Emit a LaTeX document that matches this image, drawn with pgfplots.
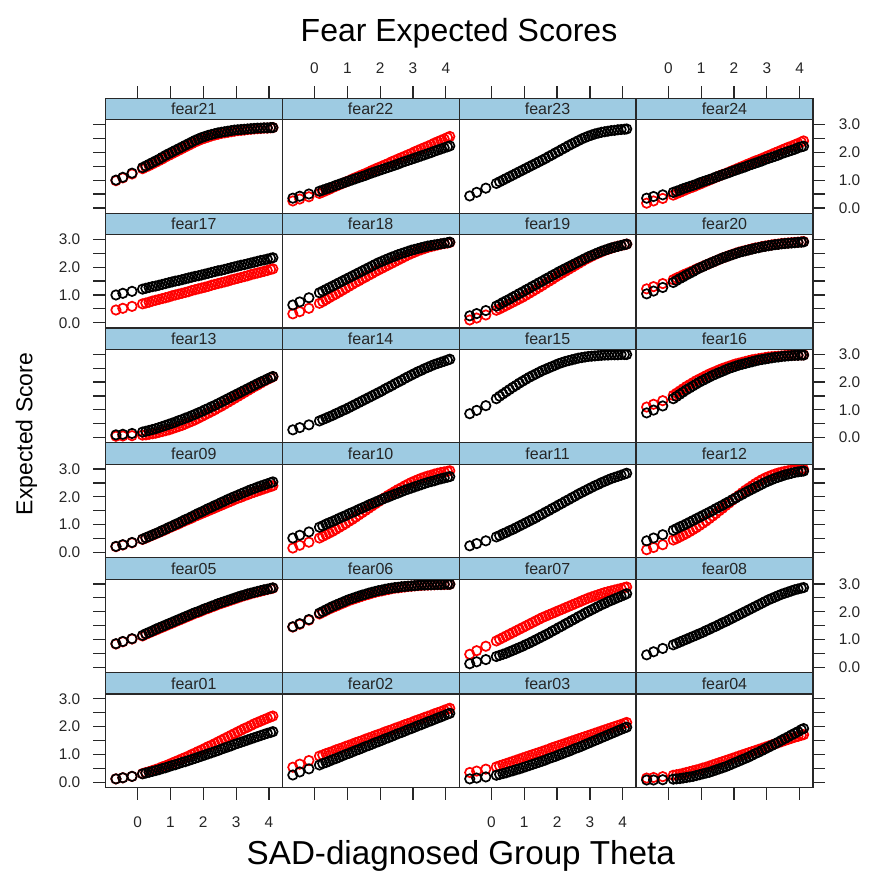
\documentclass[border=0pt]{standalone}
\usepackage{fontspec}
\setmainfont{Liberation Sans}
\usepackage{pgfplots}
\usepackage{pgfplotstable}
\pgfplotsset{compat=1.18}

\definecolor{stripblue}{RGB}{158,203,226}
\definecolor{frame}{RGB}{40,40,40}

% ---- data: one table per panel, x = theta, b = black group, r = red group
\pgfplotstableread{
x b r
-0.66 0.12 0.12
-0.45 0.16 0.16
-0.17 0.21 0.21
0.15 0.30 0.31
0.25 0.33 0.35
0.35 0.36 0.38
0.45 0.39 0.42
0.55 0.42 0.46
0.65 0.45 0.50
0.75 0.49 0.55
0.85 0.52 0.59
0.95 0.56 0.64
1.05 0.60 0.69
1.15 0.63 0.74
1.25 0.67 0.79
1.35 0.71 0.84
1.45 0.74 0.89
1.55 0.78 0.94
1.65 0.82 1.00
1.75 0.86 1.05
1.85 0.90 1.11
1.95 0.94 1.16
2.05 0.98 1.22
2.15 1.02 1.28
2.25 1.06 1.33
2.35 1.10 1.39
2.45 1.14 1.45
2.55 1.19 1.51
2.65 1.23 1.57
2.75 1.27 1.63
2.85 1.31 1.69
2.95 1.36 1.75
3.05 1.40 1.81
3.15 1.44 1.87
3.25 1.48 1.93
3.35 1.52 1.98
3.45 1.56 2.04
3.55 1.60 2.10
3.65 1.64 2.15
3.75 1.68 2.20
3.85 1.72 2.25
3.95 1.76 2.30
4.05 1.79 2.35
4.12 1.82 2.38
}\datA
\pgfplotstableread{
x b r
-0.66 0.26 0.54
-0.45 0.37 0.65
-0.17 0.48 0.78
0.15 0.62 0.94
0.25 0.67 0.98
0.35 0.71 1.03
0.45 0.76 1.07
0.55 0.81 1.11
0.65 0.85 1.16
0.75 0.90 1.20
0.85 0.95 1.24
0.95 1.00 1.29
1.05 1.04 1.33
1.15 1.09 1.37
1.25 1.14 1.42
1.35 1.18 1.46
1.45 1.23 1.50
1.55 1.28 1.55
1.65 1.32 1.59
1.75 1.37 1.63
1.85 1.42 1.68
1.95 1.46 1.72
2.05 1.51 1.76
2.15 1.56 1.81
2.25 1.60 1.85
2.35 1.65 1.89
2.45 1.70 1.94
2.55 1.75 1.98
2.65 1.79 2.02
2.75 1.84 2.07
2.85 1.89 2.11
2.95 1.93 2.15
3.05 1.98 2.20
3.15 2.03 2.24
3.25 2.07 2.28
3.35 2.12 2.33
3.45 2.17 2.37
3.55 2.21 2.41
3.65 2.26 2.46
3.75 2.31 2.50
3.85 2.35 2.54
3.95 2.40 2.59
4.05 2.45 2.63
4.12 2.48 2.66
}\datB
\pgfplotstableread{
x b r
-0.66 0.12 0.35
-0.45 0.15 0.40
-0.17 0.19 0.47
0.15 0.25 0.55
0.25 0.28 0.59
0.35 0.31 0.63
0.45 0.34 0.67
0.55 0.38 0.71
0.65 0.41 0.75
0.75 0.45 0.79
0.85 0.48 0.83
0.95 0.52 0.87
1.05 0.56 0.91
1.15 0.60 0.95
1.25 0.64 0.99
1.35 0.68 1.03
1.45 0.72 1.07
1.55 0.76 1.11
1.65 0.80 1.15
1.75 0.85 1.19
1.85 0.89 1.24
1.95 0.93 1.28
2.05 0.98 1.32
2.15 1.02 1.36
2.25 1.07 1.40
2.35 1.11 1.44
2.45 1.16 1.48
2.55 1.21 1.52
2.65 1.25 1.56
2.75 1.30 1.60
2.85 1.35 1.64
2.95 1.40 1.68
3.05 1.45 1.72
3.15 1.50 1.76
3.25 1.55 1.80
3.35 1.60 1.84
3.45 1.65 1.88
3.55 1.70 1.92
3.65 1.75 1.96
3.75 1.80 2.00
3.85 1.85 2.04
3.95 1.90 2.08
4.05 1.95 2.12
4.12 1.98 2.15
}\datC
\pgfplotstableread{
x b r
-0.66 0.08 0.15
-0.45 0.08 0.17
-0.17 0.09 0.20
0.15 0.11 0.25
0.25 0.12 0.27
0.35 0.13 0.29
0.45 0.15 0.32
0.55 0.17 0.35
0.65 0.19 0.38
0.75 0.21 0.41
0.85 0.24 0.44
0.95 0.27 0.47
1.05 0.30 0.51
1.15 0.33 0.54
1.25 0.36 0.58
1.35 0.40 0.62
1.45 0.44 0.66
1.55 0.48 0.70
1.65 0.52 0.74
1.75 0.56 0.78
1.85 0.61 0.82
1.95 0.66 0.86
2.05 0.71 0.90
2.15 0.76 0.94
2.25 0.81 0.98
2.35 0.86 1.02
2.45 0.91 1.06
2.55 0.97 1.10
2.65 1.03 1.14
2.75 1.08 1.18
2.85 1.14 1.22
2.95 1.20 1.26
3.05 1.26 1.30
3.15 1.32 1.34
3.25 1.38 1.38
3.35 1.44 1.42
3.45 1.51 1.46
3.55 1.57 1.50
3.65 1.63 1.54
3.75 1.70 1.58
3.85 1.76 1.62
3.95 1.82 1.65
4.05 1.89 1.69
4.12 1.93 1.71
}\datD
\pgfplotstableread{
x b r
-0.66 0.85 0.84
-0.45 0.93 0.92
-0.17 1.03 1.02
0.15 1.15 1.13
0.25 1.21 1.19
0.35 1.26 1.24
0.45 1.31 1.29
0.55 1.37 1.34
0.65 1.42 1.39
0.75 1.47 1.44
0.85 1.52 1.49
0.95 1.57 1.54
1.05 1.62 1.59
1.15 1.67 1.64
1.25 1.72 1.69
1.35 1.77 1.74
1.45 1.82 1.79
1.55 1.87 1.84
1.65 1.92 1.89
1.75 1.97 1.94
1.85 2.01 1.98
1.95 2.06 2.03
2.05 2.11 2.08
2.15 2.15 2.12
2.25 2.20 2.17
2.35 2.24 2.21
2.45 2.29 2.26
2.55 2.33 2.30
2.65 2.37 2.34
2.75 2.41 2.38
2.85 2.45 2.42
2.95 2.49 2.46
3.05 2.53 2.50
3.15 2.57 2.54
3.25 2.60 2.58
3.35 2.64 2.61
3.45 2.67 2.65
3.55 2.70 2.68
3.65 2.73 2.71
3.75 2.76 2.74
3.85 2.79 2.77
3.95 2.81 2.80
4.05 2.84 2.83
4.12 2.86 2.85
}\datE
\pgfplotstableread{
x b r
-0.66 1.46 1.45
-0.45 1.57 1.55
-0.17 1.72 1.70
0.15 1.95 1.92
0.25 2.01 1.98
0.35 2.07 2.04
0.45 2.13 2.10
0.55 2.19 2.15
0.65 2.24 2.20
0.75 2.29 2.25
0.85 2.34 2.30
0.95 2.39 2.35
1.05 2.44 2.40
1.15 2.48 2.44
1.25 2.52 2.48
1.35 2.56 2.52
1.45 2.60 2.56
1.55 2.63 2.60
1.65 2.67 2.63
1.75 2.70 2.67
1.85 2.73 2.70
1.95 2.76 2.73
2.05 2.78 2.75
2.15 2.81 2.78
2.25 2.83 2.80
2.35 2.85 2.83
2.45 2.87 2.85
2.55 2.88 2.86
2.65 2.90 2.88
2.75 2.91 2.89
2.85 2.92 2.91
2.95 2.93 2.92
3.05 2.94 2.93
3.15 2.95 2.94
3.25 2.96 2.95
3.35 2.96 2.96
3.45 2.97 2.96
3.55 2.97 2.97
3.65 2.98 2.97
3.75 2.98 2.98
3.85 2.98 2.98
3.95 2.99 2.98
4.05 2.99 2.99
4.12 2.99 2.99
}\datF
\pgfplotstableread{
x b r
-0.66 0.13 0.47
-0.45 0.20 0.60
-0.17 0.28 0.76
0.15 0.39 0.95
0.25 0.43 1.01
0.35 0.47 1.07
0.45 0.51 1.13
0.55 0.56 1.19
0.65 0.61 1.25
0.75 0.66 1.31
0.85 0.71 1.37
0.95 0.76 1.43
1.05 0.82 1.49
1.15 0.87 1.55
1.25 0.93 1.61
1.35 0.99 1.67
1.45 1.05 1.73
1.55 1.11 1.79
1.65 1.17 1.84
1.75 1.23 1.89
1.85 1.30 1.94
1.95 1.36 1.99
2.05 1.43 2.04
2.15 1.49 2.09
2.25 1.56 2.14
2.35 1.62 2.19
2.45 1.69 2.24
2.55 1.75 2.29
2.65 1.82 2.34
2.75 1.88 2.39
2.85 1.95 2.44
2.95 2.01 2.49
3.05 2.07 2.53
3.15 2.13 2.57
3.25 2.19 2.61
3.35 2.25 2.65
3.45 2.30 2.69
3.55 2.36 2.72
3.65 2.41 2.75
3.75 2.46 2.78
3.85 2.51 2.81
3.95 2.56 2.84
4.05 2.61 2.87
4.12 2.65 2.89
}\datG
\pgfplotstableread{
x b
-0.66 0.45
-0.45 0.56
-0.17 0.68
0.15 0.81
0.25 0.86
0.35 0.91
0.45 0.96
0.55 1.01
0.65 1.06
0.75 1.11
0.85 1.16
0.95 1.21
1.05 1.26
1.15 1.32
1.25 1.37
1.35 1.43
1.45 1.48
1.55 1.54
1.65 1.60
1.75 1.65
1.85 1.71
1.95 1.77
2.05 1.83
2.15 1.89
2.25 1.95
2.35 2.01
2.45 2.07
2.55 2.13
2.65 2.19
2.75 2.25
2.85 2.31
2.95 2.37
3.05 2.43
3.15 2.48
3.25 2.53
3.35 2.58
3.45 2.63
3.55 2.67
3.65 2.71
3.75 2.75
3.85 2.79
3.95 2.82
4.05 2.85
4.12 2.87
}\datH
\pgfplotstableread{
x b r
-0.66 0.22 0.21
-0.45 0.28 0.27
-0.17 0.36 0.35
0.15 0.48 0.47
0.25 0.53 0.52
0.35 0.58 0.57
0.45 0.63 0.62
0.55 0.68 0.67
0.65 0.73 0.72
0.75 0.79 0.77
0.85 0.84 0.82
0.95 0.90 0.88
1.05 0.95 0.93
1.15 1.01 0.98
1.25 1.06 1.03
1.35 1.12 1.09
1.45 1.18 1.14
1.55 1.23 1.19
1.65 1.29 1.24
1.75 1.35 1.30
1.85 1.41 1.35
1.95 1.46 1.40
2.05 1.52 1.45
2.15 1.58 1.50
2.25 1.63 1.55
2.35 1.69 1.60
2.45 1.74 1.65
2.55 1.80 1.70
2.65 1.85 1.75
2.75 1.91 1.80
2.85 1.96 1.85
2.95 2.01 1.90
3.05 2.06 1.95
3.15 2.11 1.99
3.25 2.16 2.04
3.35 2.21 2.08
3.45 2.26 2.13
3.55 2.30 2.17
3.65 2.35 2.21
3.75 2.39 2.25
3.85 2.43 2.29
3.95 2.47 2.33
4.05 2.51 2.37
4.12 2.54 2.40
}\datI
\pgfplotstableread{
x b r
-0.66 0.52 0.16
-0.45 0.62 0.26
-0.17 0.74 0.37
0.15 0.91 0.52
0.25 0.96 0.58
0.35 1.02 0.64
0.45 1.07 0.70
0.55 1.12 0.76
0.65 1.17 0.83
0.75 1.23 0.90
0.85 1.28 0.97
0.95 1.33 1.04
1.05 1.39 1.12
1.15 1.44 1.19
1.25 1.49 1.27
1.35 1.55 1.35
1.45 1.60 1.43
1.55 1.65 1.51
1.65 1.71 1.59
1.75 1.76 1.67
1.85 1.81 1.75
1.95 1.86 1.83
2.05 1.91 1.91
2.15 1.96 1.98
2.25 2.00 2.06
2.35 2.05 2.13
2.45 2.10 2.20
2.55 2.14 2.27
2.65 2.19 2.33
2.75 2.24 2.40
2.85 2.28 2.46
2.95 2.32 2.52
3.05 2.36 2.57
3.15 2.40 2.62
3.25 2.44 2.67
3.35 2.48 2.71
3.45 2.52 2.75
3.55 2.55 2.78
3.65 2.58 2.82
3.75 2.62 2.85
3.85 2.65 2.88
3.95 2.68 2.90
4.05 2.71 2.92
4.12 2.73 2.94
}\datJ
\pgfplotstableread{
x b
-0.66 0.24
-0.45 0.32
-0.17 0.42
0.15 0.56
0.25 0.61
0.35 0.67
0.45 0.72
0.55 0.78
0.65 0.83
0.75 0.89
0.85 0.95
0.95 1.01
1.05 1.07
1.15 1.13
1.25 1.19
1.35 1.25
1.45 1.32
1.55 1.38
1.65 1.45
1.75 1.51
1.85 1.58
1.95 1.64
2.05 1.71
2.15 1.77
2.25 1.84
2.35 1.90
2.45 1.97
2.55 2.03
2.65 2.10
2.75 2.16
2.85 2.22
2.95 2.28
3.05 2.34
3.15 2.40
3.25 2.45
3.35 2.51
3.45 2.56
3.55 2.61
3.65 2.66
3.75 2.70
3.85 2.74
3.95 2.78
4.05 2.82
4.12 2.85
}\datK
\pgfplotstableread{
x b r
-0.66 0.42 0.10
-0.45 0.52 0.18
-0.17 0.64 0.28
0.15 0.80 0.45
0.25 0.86 0.50
0.35 0.92 0.56
0.45 0.97 0.62
0.55 1.03 0.68
0.65 1.09 0.75
0.75 1.15 0.82
0.85 1.21 0.89
0.95 1.27 0.97
1.05 1.33 1.05
1.15 1.39 1.13
1.25 1.45 1.22
1.35 1.51 1.31
1.45 1.58 1.40
1.55 1.64 1.50
1.65 1.70 1.59
1.75 1.77 1.69
1.85 1.83 1.78
1.95 1.90 1.88
2.05 1.96 1.97
2.15 2.03 2.06
2.25 2.09 2.15
2.35 2.16 2.24
2.45 2.22 2.32
2.55 2.28 2.40
2.65 2.34 2.48
2.75 2.40 2.55
2.85 2.46 2.62
2.95 2.52 2.68
3.05 2.57 2.73
3.15 2.62 2.78
3.25 2.67 2.82
3.35 2.71 2.86
3.45 2.75 2.89
3.55 2.79 2.92
3.65 2.82 2.94
3.75 2.85 2.96
3.85 2.88 2.97
3.95 2.90 2.98
4.05 2.92 2.99
4.12 2.93 2.99
}\datL
\pgfplotstableread{
x b r
-0.66 0.10 0.05
-0.45 0.12 0.06
-0.17 0.15 0.07
0.15 0.20 0.09
0.25 0.23 0.10
0.35 0.26 0.12
0.45 0.29 0.14
0.55 0.32 0.16
0.65 0.36 0.19
0.75 0.40 0.22
0.85 0.44 0.25
0.95 0.48 0.28
1.05 0.52 0.32
1.15 0.56 0.36
1.25 0.61 0.40
1.35 0.65 0.44
1.45 0.70 0.49
1.55 0.74 0.54
1.65 0.79 0.59
1.75 0.84 0.64
1.85 0.89 0.70
1.95 0.94 0.76
2.05 1.00 0.82
2.15 1.05 0.88
2.25 1.11 0.94
2.35 1.16 1.00
2.45 1.22 1.07
2.55 1.28 1.13
2.65 1.34 1.20
2.75 1.40 1.27
2.85 1.46 1.34
2.95 1.52 1.41
3.05 1.58 1.48
3.15 1.64 1.55
3.25 1.70 1.62
3.35 1.76 1.69
3.45 1.82 1.76
3.55 1.88 1.83
3.65 1.94 1.89
3.75 2.00 1.96
3.85 2.05 2.03
3.95 2.11 2.09
4.05 2.16 2.15
4.12 2.20 2.19
}\datM
\pgfplotstableread{
x b
-0.66 0.28
-0.45 0.36
-0.17 0.46
0.15 0.60
0.25 0.65
0.35 0.70
0.45 0.75
0.55 0.80
0.65 0.86
0.75 0.91
0.85 0.97
0.95 1.02
1.05 1.08
1.15 1.14
1.25 1.20
1.35 1.26
1.45 1.32
1.55 1.38
1.65 1.44
1.75 1.50
1.85 1.56
1.95 1.62
2.05 1.68
2.15 1.75
2.25 1.81
2.35 1.87
2.45 1.94
2.55 2.00
2.65 2.06
2.75 2.13
2.85 2.19
2.95 2.25
3.05 2.31
3.15 2.37
3.25 2.42
3.35 2.48
3.45 2.53
3.55 2.58
3.65 2.63
3.75 2.67
3.85 2.71
3.95 2.75
4.05 2.79
4.12 2.82
}\datN
\pgfplotstableread{
x b
-0.66 0.86
-0.45 0.98
-0.17 1.15
0.15 1.40
0.25 1.49
0.35 1.57
0.45 1.65
0.55 1.73
0.65 1.81
0.75 1.88
0.85 1.96
0.95 2.03
1.05 2.10
1.15 2.17
1.25 2.23
1.35 2.29
1.45 2.35
1.55 2.41
1.65 2.46
1.75 2.51
1.85 2.56
1.95 2.61
2.05 2.66
2.15 2.70
2.25 2.74
2.35 2.77
2.45 2.80
2.55 2.83
2.65 2.86
2.75 2.88
2.85 2.90
2.95 2.92
3.05 2.93
3.15 2.94
3.25 2.95
3.35 2.96
3.45 2.97
3.55 2.97
3.65 2.98
3.75 2.98
3.85 2.98
3.95 2.99
4.05 2.99
4.12 2.99
}\datO
\pgfplotstableread{
x b r
-0.66 0.89 1.10
-0.45 0.99 1.20
-0.17 1.14 1.33
0.15 1.40 1.52
0.25 1.48 1.60
0.35 1.56 1.68
0.45 1.64 1.76
0.55 1.72 1.84
0.65 1.79 1.91
0.75 1.86 1.98
0.85 1.93 2.05
0.95 2.00 2.11
1.05 2.06 2.17
1.15 2.12 2.23
1.25 2.18 2.29
1.35 2.24 2.34
1.45 2.29 2.39
1.55 2.34 2.44
1.65 2.39 2.49
1.75 2.44 2.53
1.85 2.49 2.57
1.95 2.53 2.61
2.05 2.57 2.65
2.15 2.61 2.68
2.25 2.64 2.71
2.35 2.67 2.74
2.45 2.70 2.77
2.55 2.73 2.80
2.65 2.76 2.82
2.75 2.79 2.84
2.85 2.81 2.86
2.95 2.83 2.88
3.05 2.85 2.90
3.15 2.87 2.91
3.25 2.89 2.92
3.35 2.90 2.93
3.45 2.92 2.94
3.55 2.93 2.95
3.65 2.94 2.96
3.75 2.95 2.96
3.85 2.96 2.97
3.95 2.96 2.97
4.05 2.97 2.98
4.12 2.97 2.98
}\datP
\pgfplotstableread{
x b r
-0.66 1.00 0.46
-0.45 1.06 0.52
-0.17 1.13 0.59
0.15 1.21 0.68
0.25 1.24 0.71
0.35 1.27 0.74
0.45 1.30 0.78
0.55 1.32 0.81
0.65 1.35 0.84
0.75 1.38 0.87
0.85 1.41 0.90
0.95 1.44 0.93
1.05 1.47 0.97
1.15 1.50 1.00
1.25 1.52 1.03
1.35 1.55 1.06
1.45 1.58 1.09
1.55 1.61 1.12
1.65 1.64 1.16
1.75 1.67 1.19
1.85 1.69 1.22
1.95 1.72 1.25
2.05 1.75 1.28
2.15 1.78 1.31
2.25 1.81 1.35
2.35 1.84 1.38
2.45 1.87 1.41
2.55 1.89 1.44
2.65 1.92 1.47
2.75 1.95 1.50
2.85 1.98 1.54
2.95 2.01 1.57
3.05 2.04 1.60
3.15 2.07 1.63
3.25 2.09 1.66
3.35 2.12 1.69
3.45 2.15 1.73
3.55 2.18 1.76
3.65 2.21 1.79
3.75 2.24 1.82
3.85 2.26 1.85
3.95 2.29 1.88
4.05 2.32 1.92
4.12 2.34 1.94
}\datQ
\pgfplotstableread{
x b r
-0.66 0.64 0.32
-0.45 0.75 0.40
-0.17 0.90 0.52
0.15 1.08 0.70
0.25 1.14 0.76
0.35 1.20 0.83
0.45 1.26 0.90
0.55 1.32 0.97
0.65 1.38 1.03
0.75 1.44 1.10
0.85 1.50 1.17
0.95 1.56 1.24
1.05 1.62 1.31
1.15 1.68 1.38
1.25 1.74 1.45
1.35 1.80 1.51
1.45 1.86 1.58
1.55 1.92 1.64
1.65 1.98 1.71
1.75 2.04 1.77
1.85 2.10 1.84
1.95 2.16 1.90
2.05 2.21 1.96
2.15 2.26 2.02
2.25 2.31 2.08
2.35 2.36 2.14
2.45 2.40 2.20
2.55 2.45 2.26
2.65 2.49 2.32
2.75 2.53 2.38
2.85 2.57 2.44
2.95 2.61 2.49
3.05 2.64 2.54
3.15 2.67 2.59
3.25 2.70 2.63
3.35 2.73 2.67
3.45 2.76 2.71
3.55 2.78 2.74
3.65 2.80 2.77
3.75 2.82 2.80
3.85 2.84 2.83
3.95 2.86 2.85
4.05 2.88 2.87
4.12 2.90 2.89
}\datR
\pgfplotstableread{
x b r
-0.66 0.25 0.10
-0.45 0.33 0.17
-0.17 0.44 0.28
0.15 0.60 0.45
0.25 0.66 0.50
0.35 0.73 0.56
0.45 0.79 0.62
0.55 0.85 0.68
0.65 0.92 0.74
0.75 0.98 0.80
0.85 1.05 0.86
0.95 1.11 0.92
1.05 1.18 0.99
1.15 1.24 1.06
1.25 1.31 1.13
1.35 1.37 1.20
1.45 1.44 1.27
1.55 1.50 1.34
1.65 1.57 1.42
1.75 1.63 1.49
1.85 1.70 1.56
1.95 1.76 1.64
2.05 1.83 1.71
2.15 1.89 1.78
2.25 1.95 1.85
2.35 2.01 1.92
2.45 2.07 1.99
2.55 2.13 2.06
2.65 2.19 2.13
2.75 2.25 2.20
2.85 2.31 2.27
2.95 2.37 2.33
3.05 2.42 2.39
3.15 2.47 2.45
3.25 2.52 2.50
3.35 2.57 2.55
3.45 2.61 2.60
3.55 2.65 2.64
3.65 2.69 2.68
3.75 2.72 2.72
3.85 2.75 2.75
3.95 2.78 2.78
4.05 2.81 2.81
4.12 2.83 2.83
}\datS
\pgfplotstableread{
x b r
-0.66 1.04 1.22
-0.45 1.14 1.30
-0.17 1.27 1.41
0.15 1.45 1.55
0.25 1.52 1.61
0.35 1.59 1.66
0.45 1.65 1.72
0.55 1.72 1.77
0.65 1.78 1.82
0.75 1.84 1.87
0.85 1.91 1.93
0.95 1.97 1.98
1.05 2.02 2.03
1.15 2.08 2.08
1.25 2.13 2.13
1.35 2.18 2.18
1.45 2.23 2.23
1.55 2.28 2.28
1.65 2.33 2.33
1.75 2.37 2.37
1.85 2.41 2.42
1.95 2.45 2.46
2.05 2.49 2.50
2.15 2.53 2.54
2.25 2.56 2.57
2.35 2.59 2.60
2.45 2.62 2.63
2.55 2.65 2.66
2.65 2.68 2.69
2.75 2.70 2.71
2.85 2.73 2.74
2.95 2.75 2.76
3.05 2.77 2.78
3.15 2.79 2.80
3.25 2.81 2.82
3.35 2.82 2.83
3.45 2.84 2.85
3.55 2.85 2.86
3.65 2.86 2.87
3.75 2.87 2.88
3.85 2.88 2.89
3.95 2.89 2.90
4.05 2.90 2.91
4.12 2.91 2.92
}\datT
\pgfplotstableread{
x b r
-0.66 1.00 0.98
-0.45 1.10 1.08
-0.17 1.25 1.22
0.15 1.45 1.41
0.25 1.51 1.47
0.35 1.57 1.52
0.45 1.63 1.58
0.55 1.69 1.64
0.65 1.75 1.70
0.75 1.82 1.76
0.85 1.89 1.83
0.95 1.95 1.89
1.05 2.01 1.95
1.15 2.07 2.01
1.25 2.13 2.07
1.35 2.19 2.13
1.45 2.25 2.19
1.55 2.31 2.25
1.65 2.37 2.31
1.75 2.43 2.37
1.85 2.48 2.42
1.95 2.53 2.47
2.05 2.57 2.51
2.15 2.61 2.55
2.25 2.64 2.59
2.35 2.67 2.62
2.45 2.70 2.65
2.55 2.72 2.68
2.65 2.74 2.70
2.75 2.76 2.72
2.85 2.78 2.74
2.95 2.80 2.76
3.05 2.81 2.78
3.15 2.82 2.79
3.25 2.83 2.80
3.35 2.84 2.82
3.45 2.85 2.83
3.55 2.86 2.84
3.65 2.87 2.85
3.75 2.87 2.86
3.85 2.88 2.87
3.95 2.88 2.87
4.05 2.89 2.88
4.12 2.89 2.89
}\datU
\pgfplotstableread{
x b r
-0.66 0.35 0.25
-0.45 0.42 0.32
-0.17 0.50 0.40
0.15 0.60 0.52
0.25 0.64 0.57
0.35 0.68 0.62
0.45 0.72 0.67
0.55 0.76 0.73
0.65 0.81 0.78
0.75 0.85 0.83
0.85 0.89 0.88
0.95 0.93 0.93
1.05 0.97 0.98
1.15 1.01 1.04
1.25 1.05 1.09
1.35 1.09 1.14
1.45 1.13 1.19
1.55 1.17 1.24
1.65 1.22 1.29
1.75 1.26 1.35
1.85 1.30 1.40
1.95 1.34 1.45
2.05 1.38 1.50
2.15 1.42 1.55
2.25 1.46 1.60
2.35 1.50 1.66
2.45 1.54 1.71
2.55 1.58 1.76
2.65 1.63 1.81
2.75 1.67 1.86
2.85 1.71 1.91
2.95 1.75 1.96
3.05 1.79 2.02
3.15 1.83 2.07
3.25 1.87 2.12
3.35 1.91 2.17
3.45 1.95 2.22
3.55 1.99 2.27
3.65 2.04 2.33
3.75 2.08 2.38
3.85 2.12 2.43
3.95 2.16 2.48
4.05 2.20 2.53
4.12 2.23 2.57
}\datV
\pgfplotstableread{
x b
-0.66 0.43
-0.45 0.56
-0.17 0.71
0.15 0.88
0.25 0.94
0.35 1.00
0.45 1.06
0.55 1.12
0.65 1.18
0.75 1.24
0.85 1.30
0.95 1.36
1.05 1.42
1.15 1.48
1.25 1.54
1.35 1.60
1.45 1.66
1.55 1.72
1.65 1.78
1.75 1.85
1.85 1.91
1.95 1.98
2.05 2.04
2.15 2.11
2.25 2.17
2.35 2.24
2.45 2.30
2.55 2.36
2.65 2.42
2.75 2.48
2.85 2.53
2.95 2.58
3.05 2.62
3.15 2.66
3.25 2.69
3.35 2.72
3.45 2.74
3.55 2.76
3.65 2.78
3.75 2.79
3.85 2.81
3.95 2.82
4.05 2.83
4.12 2.84
}\datW
\pgfplotstableread{
x b r
-0.66 0.35 0.17
-0.45 0.41 0.25
-0.17 0.47 0.34
0.15 0.56 0.46
0.25 0.60 0.51
0.35 0.64 0.56
0.45 0.69 0.61
0.55 0.73 0.66
0.65 0.77 0.71
0.75 0.81 0.75
0.85 0.85 0.80
0.95 0.90 0.85
1.05 0.94 0.90
1.15 0.98 0.95
1.25 1.02 1.00
1.35 1.06 1.05
1.45 1.11 1.10
1.55 1.15 1.15
1.65 1.19 1.20
1.75 1.23 1.24
1.85 1.27 1.29
1.95 1.32 1.34
2.05 1.36 1.39
2.15 1.40 1.44
2.25 1.44 1.49
2.35 1.48 1.54
2.45 1.53 1.59
2.55 1.57 1.64
2.65 1.61 1.69
2.75 1.65 1.73
2.85 1.69 1.78
2.95 1.74 1.83
3.05 1.78 1.88
3.15 1.82 1.93
3.25 1.86 1.98
3.35 1.90 2.03
3.45 1.95 2.08
3.55 1.99 2.13
3.65 2.03 2.18
3.75 2.07 2.22
3.85 2.11 2.27
3.95 2.16 2.32
4.05 2.20 2.37
4.12 2.22 2.41
}\datX

\pgfplotsset{
  panel/.style={
    scale only axis, width=88.45pt, height=46.7pt,
    xmin=-0.984, xmax=4.404, ymin=-0.19, ymax=3.17,
    anchor=south west, clip mode=individual,
    axis line style={frame, line width=0.6pt},
    tick align=outside, major tick length=6pt, minor tick length=6pt,
    tick style={frame, line width=0.6pt},
    xtick=\empty, ytick=\empty,
    tick label style={font=\fontsize{7.7}{9}\selectfont, text=black!85},
    /pgf/number format/assume math mode=true,
  },
  yl/.style={ytick={0,1,2,3}, minor ytick={0.5,1.5,2.5}, ytick pos=left,
    yticklabel pos=left, yticklabels={0.0,1.0,2.0,3.0}, yticklabel shift=3pt},
  yln/.style={yl, yticklabels={,,,}},
  yr/.style={ytick={0,1,2,3}, minor ytick={0.5,1.5,2.5}, ytick pos=right,
    yticklabel pos=right, yticklabels={0.0,1.0,2.0,3.0}, yticklabel shift=3.4pt},
  yrn/.style={yr, yticklabels={,,,}},
  xb/.style={xtick={0,1,2,3,4}, xtick pos=left, xticklabel pos=left,
    xticklabels={0,1,2,3,4}, xticklabel shift=5pt},
  xbn/.style={xb, xticklabels={,,,,}},
  xt/.style={xtick={0,1,2,3,4}, xtick pos=right, xticklabel pos=right,
    xticklabels={0,1,2,3,4}, xticklabel shift=3pt,
    xtick style={yshift=10.75pt}, xticklabel style={yshift=10.75pt}},
  xtn/.style={xt, xticklabels={,,,,}},
  redpts/.style={only marks, mark=o, mark size=2.35pt, red, mark options={line width=0.85pt}},
  blkpts/.style={only marks, mark=o, mark size=2.35pt, black, mark options={line width=0.85pt}},
}

\newcommand{\strip}[1]{%
  \draw[frame, line width=0.6pt, fill=stripblue] (rel axis cs:0,1) rectangle ([yshift=10.75pt]rel axis cs:1,1);
  \node[font=\fontsize{8}{9}\selectfont, text=black!85] at ([yshift=5.375pt]rel axis cs:0.5,1) {#1};}

% #1 column, #2 row from bottom, #3 name, #4 table, #5 tick options
\newcommand{\panel}[5]{%
  \begin{axis}[panel, at={({52.65pt+#1*88.45pt},{42.25pt+#2*57.43pt})}, #5]
    \addplot[redpts] table[x=x, y=r] {#4};
    \addplot[blkpts] table[x=x, y=b] {#4};
    \strip{#3}
  \end{axis}}
\newcommand{\panelb}[5]{%
  \begin{axis}[panel, at={({52.65pt+#1*88.45pt},{42.25pt+#2*57.43pt})}, #5]
    \addplot[blkpts] table[x=x, y=b] {#4};
    \strip{#3}
  \end{axis}}

\begin{document}
\begin{tikzpicture}
\path[use as bounding box] (0,0) rectangle (434pt,436pt);

\panel{0}{5}{fear21}{\datU}{yln, xtn}
\panel{1}{5}{fear22}{\datV}{xt}
\panelb{2}{5}{fear23}{\datW}{xtn}
\panel{3}{5}{fear24}{\datX}{xt, yr}

\panel{0}{4}{fear17}{\datQ}{yl}
\panel{1}{4}{fear18}{\datR}{}
\panel{2}{4}{fear19}{\datS}{}
\panel{3}{4}{fear20}{\datT}{yrn}

\panel{0}{3}{fear13}{\datM}{yln}
\panelb{1}{3}{fear14}{\datN}{}
\panelb{2}{3}{fear15}{\datO}{}
\panel{3}{3}{fear16}{\datP}{yr}

\panel{0}{2}{fear09}{\datI}{yl}
\panel{1}{2}{fear10}{\datJ}{}
\panelb{2}{2}{fear11}{\datK}{}
\panel{3}{2}{fear12}{\datL}{yrn}

\panel{0}{1}{fear05}{\datE}{yln}
\panel{1}{1}{fear06}{\datF}{}
\panel{2}{1}{fear07}{\datG}{}
\panelb{3}{1}{fear08}{\datH}{yr}

\panel{0}{0}{fear01}{\datA}{yl, xb}
\panel{1}{0}{fear02}{\datB}{xbn}
\panel{2}{0}{fear03}{\datC}{xb}
\panel{3}{0}{fear04}{\datD}{xbn, yrn}

\node[anchor=base, font=\fontsize{16}{18}\selectfont] at (229.5pt,415.2pt) {Fear Expected Scores};
\node[anchor=base, font=\fontsize{16.6}{19}\selectfont] at (230.4pt,3.5pt) {SAD-diagnosed Group Theta};
\node[anchor=base, rotate=90, font=\fontsize{11.5}{13}\selectfont] at (16.2pt,219pt) {Expected Score};
\end{tikzpicture}
\end{document}
